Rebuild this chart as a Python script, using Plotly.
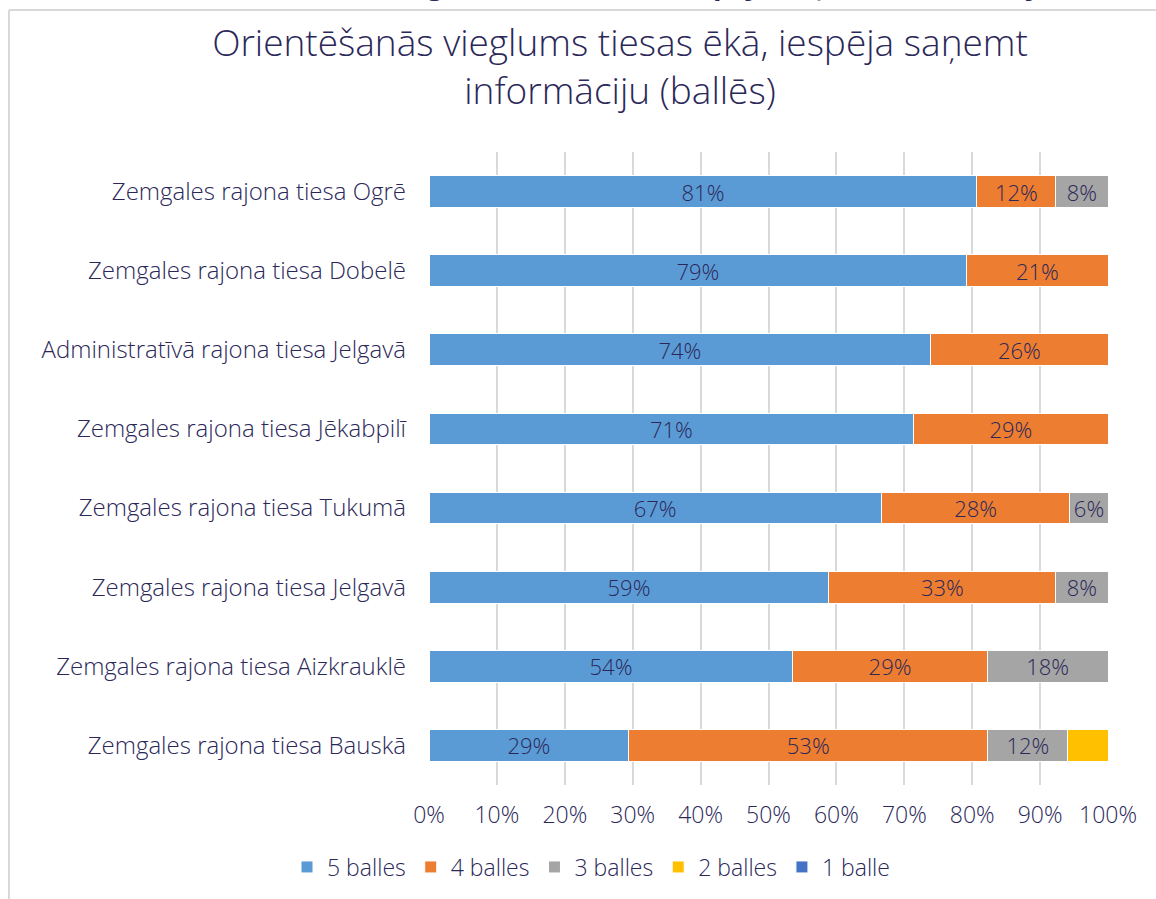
import plotly.graph_objects as go

categories = [
    "Zemgales rajona tiesa Ogrē",
    "Zemgales rajona tiesa Dobelē",
    "Administratīvā rajona tiesa Jelgavā",
    "Zemgales rajona tiesa Jēkabpilī",
    "Zemgales rajona tiesa Tukumā",
    "Zemgales rajona tiesa Jelgavā",
    "Zemgales rajona tiesa Aizkrauklē",
    "Zemgales rajona tiesa Bauskā",
]
balles5 = [80.7, 79.2, 73.9, 71.4, 66.6, 58.9, 53.6, 29.4]
balles4 = [11.6, 20.8, 26.1, 28.6, 27.8, 33.4, 28.6, 52.9]
balles3 = [7.7, 0, 0, 0, 5.6, 7.7, 17.8, 11.8]
balles2 = [0, 0, 0, 0, 0, 0, 0, 5.9]
balles1 = [0, 0, 0, 0, 0, 0, 0, 0]
series_names = ["5 balles", "4 balles", "3 balles", "2 balles", "1 balle"]
tick_vals = [0, 10, 20, 30, 40, 50, 60, 70, 80, 90, 100]
tick_text = [f"{v}%" for v in tick_vals]

colors = ["#5b9bd5", "#ed7d31", "#a5a5a5", "#ffc000", "#4472c4"]
show_labels = [True, True, True, False, False]
TXT = "#2b2859"
FONT = "Open Sans"
WGT = 300

fig = go.Figure()
for name, vals, col, lab in zip(series_names, [balles5, balles4, balles3, balles2, balles1], colors, show_labels):
    texts = [f"{round(v)}%" if (lab and v > 0) else "" for v in vals]
    fig.add_trace(go.Bar(
        y=categories, x=vals, name=name, orientation="h",
        marker=dict(color=col, line=dict(color="white", width=1)),
        text=texts, textposition="inside", insidetextanchor="middle",
        textangle=0, textfont=dict(size=22, color=TXT, family=FONT, weight=WGT),
        hoverinfo="x+y+name",
    ))

W, H = 1156, 899
L, R, T, B = 429, 48, 152, 114
pw, ph = W - L - R, H - T - B

def px_x(p):
    return (p - L) / pw

def px_y(p):
    return (H - B - p) / ph

fig.update_layout(
    width=W, height=H,
    barmode="stack", bargap=0.6,
    plot_bgcolor="white", paper_bgcolor="white",
    margin=dict(l=L, r=R, t=T, b=B, autoexpand=False),
    font=dict(family=FONT, color=TXT, size=22, weight=WGT),
    uniformtext=dict(minsize=22, mode="show"),
    title=dict(
        text="Orientēšanās vieglums tiesas ēkā, iespēja saņemt<br>informāciju (ballēs)",
        x=620 / W, xanchor="center", xref="container",
        y=1 - 56 / H, yanchor="top", yref="container",
        font=dict(size=37, color=TXT, family=FONT, weight=WGT),
    ),
    xaxis=dict(
        range=[0, 100], tickvals=tick_vals, ticktext=tick_text,
        showgrid=True, gridcolor="#d9d9d9", gridwidth=2,
        zeroline=False, showline=False,
        ticks="outside", ticklen=6, tickcolor="rgba(0,0,0,0)",
        ticklabelstandoff=3,
        tickfont=dict(size=23, color=TXT, family=FONT, weight=WGT),
        fixedrange=True,
    ),
    yaxis=dict(
        categoryorder="array", categoryarray=categories,
        autorange="reversed",
        showgrid=False, zeroline=False, showline=False,
        ticks="", ticklabelstandoff=22,
        tickfont=dict(size=24, color=TXT, family=FONT, weight=WGT),
        fixedrange=True,
    ),
    legend=dict(
        orientation="h", x=591 / W, xanchor="center", xref="container",
        y=px_y(867), yanchor="middle",
        font=dict(size=23, color=TXT, family=FONT, weight=WGT),
        itemwidth=30, traceorder="normal",
    ),
    showlegend=True,
)

# outer frame (left and top edges visible)
fig.add_shape(type="line", xref="paper", yref="paper",
              x0=px_x(9), x1=px_x(9), y0=px_y(H + 20), y1=px_y(10),
              line=dict(color="#d9d9d9", width=2), layer="below")
fig.add_shape(type="line", xref="paper", yref="paper",
              x0=px_x(9), x1=px_x(W + 20), y0=px_y(10), y1=px_y(10),
              line=dict(color="#d9d9d9", width=2), layer="below")

# cut-off caption at the very top of the page
fig.add_annotation(
    text="<b>Grafiks 4.1.6 “Orientēšanās vieglums tiesas ēkā, iespēja saņemt informāciju (balles)”</b>",
    xref="paper", yref="paper", x=px_x(-2), xanchor="left",
    y=px_y(0), yanchor="bottom", yshift=-4, showarrow=False,
    font=dict(size=28, color=TXT, family=FONT),
)

fig.write_html("out.html", config={"displayModeBar": False},
               post_script="document.body.style.margin='0';")
